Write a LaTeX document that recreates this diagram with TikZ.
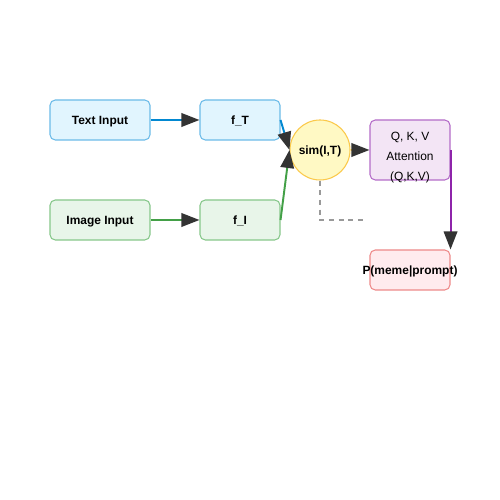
\documentclass[tikz,border=0pt]{standalone}
\usepackage{fontspec}
\setmainfont{Liberation Sans}
\usetikzlibrary{arrows.meta}

\definecolor{blueFill}{HTML}{E1F5FE}
\definecolor{blueLine}{HTML}{6BBBE8}
\definecolor{blueEdge}{HTML}{0288D1}
\definecolor{greenFill}{HTML}{E8F5E9}
\definecolor{greenLine}{HTML}{86C78A}
\definecolor{greenEdge}{HTML}{43A047}
\definecolor{yellowFill}{HTML}{FFF9C4}
\definecolor{yellowLine}{HTML}{FBC94A}
\definecolor{purpleFill}{HTML}{F3E5F5}
\definecolor{purpleLine}{HTML}{B46CC8}
\definecolor{purpleEdge}{HTML}{8E24AA}
\definecolor{redFill}{HTML}{FFEBEE}
\definecolor{redLine}{HTML}{EE8A8A}
\definecolor{headGray}{HTML}{333333}

\tikzset{
  block/.style={rectangle, rounded corners=3pt, draw, line width=0.6pt, inner sep=0pt,
    text depth=0pt, font=\fontsize{6.8}{8}\selectfont\bfseries},
  wideblock/.style={block, minimum width=2cm, minimum height=0.8cm},
  narrowblock/.style={block, minimum width=1.6cm, minimum height=0.8cm},
  flow/.style={line width=1.1pt, -{Triangle[length=0.36cm, width=0.27cm, color=headGray]}},
}

\begin{document}
\begin{tikzpicture}
  \filldraw[fill=white, draw=none] (0,0) rectangle (10,10);
  \node[wideblock, fill=blueFill, draw=blueLine] (textin) at (2.0,7.6) {Text Input};
  \node[narrowblock, fill=blueFill, draw=blueLine] (fT) at (4.8,7.6) {f\_T};
  \node[wideblock, fill=greenFill, draw=greenLine] (imagein) at (2.0,5.6) {Image Input};
  \node[narrowblock, fill=greenFill, draw=greenLine] (fI) at (4.8,5.6) {f\_I};
  \node[circle, draw=yellowLine, fill=yellowFill, line width=0.6pt, minimum size=1.2cm, inner sep=0pt,
    text depth=0pt, font=\fontsize{6.8}{8}\selectfont\bfseries] (sim) at (6.4,7.0) {sim(I,T)};
  \node[block, fill=purpleFill, draw=purpleLine, minimum width=1.6cm, minimum height=1.2cm] (att) at (8.2,7.0) {};
  \node[narrowblock, fill=redFill, draw=redLine] (prob) at (8.2,4.6) {\makebox[0pt]{P(meme|prompt)}};
  \node[font=\fontsize{6.8}{11.3}\selectfont, align=center, inner sep=0pt] (attlabel) at (8.2,6.85)
    {Q, K, V\\ Attention\\ (Q,K,V)};
  \coordinate (dashend) at (7.3,5.6);
  \draw[flow, blueEdge] (textin) -- (fT);
  \draw[flow, greenEdge] (imagein) -- (fI);
  \draw[flow, blueEdge] (fT.east) -- (sim.west);
  \draw[flow, greenEdge] (fI.east) -- (sim.west);
  \draw[flow, yellowLine] (sim.east) -- (att.west);
  \draw[flow, purpleEdge] (att.east) -- (prob.north east);
  \draw[gray!80, line width=1.1pt, dash pattern=on 3pt off 2.5pt] (sim.south) |- (dashend);
\end{tikzpicture}
\end{document}
